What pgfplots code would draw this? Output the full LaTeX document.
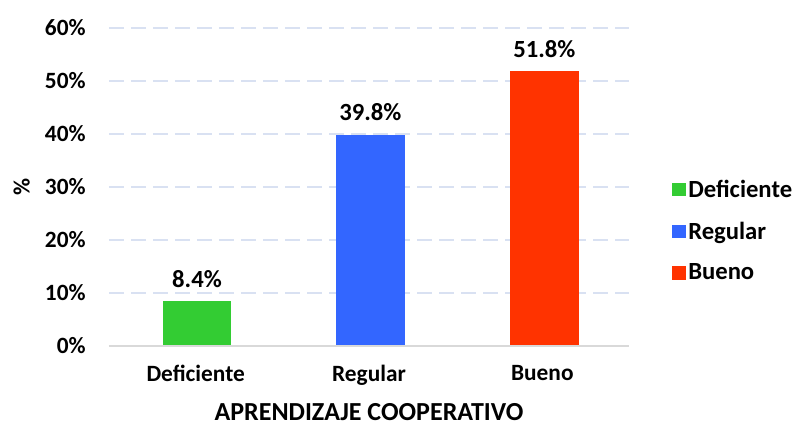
\documentclass[border=0pt]{standalone}
\usepackage{pgfplots}
\pgfplotsset{compat=1.18}
\usepackage{fontspec}
\setmainfont{Carlito}
\definecolor{cgreen}{HTML}{33CC33}
\definecolor{cblue}{HTML}{3366FF}
\definecolor{cred}{HTML}{FF3300}
\definecolor{cgrid}{HTML}{D9E1F2}
\definecolor{caxis}{HTML}{D9D9D9}
\begin{document}
\begin{tikzpicture}
\useasboundingbox (-81.75pt,-60.75pt) rectangle (516pt,259.5pt);
\begin{axis}[
  scale only axis,
  width=390pt, height=238.5pt,
  ybar, bar width=51.5pt,
  xmin=-0.5, xmax=2.5,
  ymin=0, ymax=60,
  xtick={0,1,2},
  xticklabels={Deficiente,Regular,Bueno},
  ytick={0,10,20,30,40,50,60},
  yticklabel={\pgfmathprintnumber{\tick}\%},
  /pgf/number format/assume math mode=true,
  font=\fontsize{17.5}{20}\selectfont\bfseries,
  tick label style={font=\fontsize{17.5}{20}\selectfont\bfseries},
  major tick length=0pt,
  axis line style={draw=none},
  ymajorgrids,
  grid style={cgrid, line width=1.2pt, dash pattern=on 11pt off 5.5pt},
  ylabel={\%},
  ylabel style={at={(axis description cs:-0.168,0.5)}, anchor=center, font=\fontsize{17.5}{20}\selectfont\bfseries},
  xlabel={APRENDIZAJE COOPERATIVO},
  xlabel style={at={(axis description cs:0.5,0)}, anchor=center, yshift=-49.5pt, font=\fontsize{19.5}{22}\selectfont\bfseries},
  yticklabel style={xshift=-14pt},
  xticklabel style={yshift=-11pt},
  nodes near coords={\pgfmathprintnumber[fixed,precision=1,fixed zerofill]{\pgfplotspointmeta}\%},
  nodes near coords style={font=\fontsize{18.5}{21}\selectfont\bfseries, yshift=7pt},
  legend style={at={(1.075,0.362)}, anchor=west, draw=none, fill=none,
    font=\fontsize{18.5}{21}\selectfont\bfseries, row sep=13pt,
    legend cell align=left},
  legend image code/.code={\fill[#1] (0pt,-5pt) rectangle (10pt,5pt);},
  clip=false,
]
\addplot[fill=cgreen, draw=none, bar shift=1pt] coordinates {(0,8.4)};
\addplot[fill=cblue, draw=none, bar shift=1pt] coordinates {(1,39.8)};
\addplot[fill=cred, draw=none, bar shift=1.5pt] coordinates {(2,51.8)};
\legend{Deficiente,Regular,Bueno}
\draw[caxis, line width=1.5pt] (axis cs:-0.5,0) -- (axis cs:2.5,0);
\end{axis}
\end{tikzpicture}
\end{document}
